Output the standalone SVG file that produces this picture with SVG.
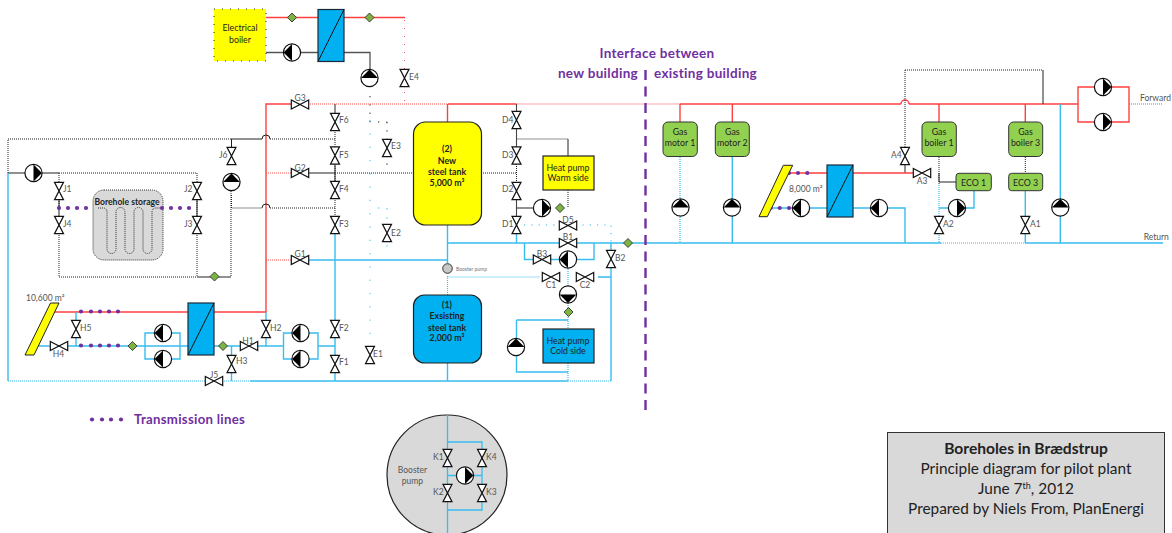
<svg xmlns="http://www.w3.org/2000/svg" xmlns:xlink="http://www.w3.org/1999/xlink" width="1172" height="533" viewBox="0 0 1172 533">
<style>
text{font-family:"Lato","Open Sans","Liberation Sans",sans-serif;fill:#555;font-size:8.500px}
.c{text-anchor:middle}
.d{fill:#222;font-size:8.800px}
.bld{font-weight:700;fill:#222;font-size:8.800px}
.pu{fill:#7030a0;font-weight:700;font-size:13.500px;letter-spacing:.3px}
.tt{fill:#222;font-size:15.400px;text-anchor:middle}
#lines path{fill:none;stroke-linejoin:miter}
.r{stroke:#ff4040;stroke-width:1.400}
.rd{stroke:#ff5050;stroke-width:1.200;stroke-dasharray:1 1}
.rs{stroke:#ff5050;stroke-width:1;stroke-dasharray:1 7}
.b{stroke:#38bdf0;stroke-width:1.400}
.bd{stroke:#38bdf0;stroke-width:1.200;stroke-dasharray:1 1}
.bs{stroke:#38bdf0;stroke-width:1;stroke-dasharray:1.300 12}
.k{stroke:#222;stroke-width:1}
.kd{stroke:#222;stroke-width:1;stroke-dasharray:1 1}
.ks{stroke:#222;stroke-width:1;stroke-dasharray:1.300 7}
.vv{fill:#fff;stroke:#111;stroke-width:1.200}
.pc{fill:#fff;stroke:#111;stroke-width:1.200}
.dm{fill:#7cb342;stroke:#222;stroke-width:.8}
.hx{fill:#00b0f0;stroke:#1a2a38;stroke-width:1.200}
.gr{fill:#92d050;stroke:#333;stroke-width:1}
.dot{fill:#7030a0}
</style>
<defs>
<path id="v" class="vv" d="M-4.500-8.700H4.500L-4.500 8.700H4.500Z"/>
<g id="p"><circle class="pc" r="8.600"/><path d="M0-8.400L8.400 0L0 8.400Z" fill="#000"/></g>
<path id="dia" class="dm" d="M0-4.500L4.500 0L0 4.500L-4.500 0Z"/>
<g id="hxs"><rect class="hx" x="0" y="0" width="26" height="52"/><path d="M0 52L26 0" stroke="#111" stroke-width="1" fill="none"/></g>
</defs>

<g id="lines">
<path class="r" d="M266 17.500H318M344 17.500H405"/>
<path class="rs" d="M404.500 20V104"/>
<path d="M266 52.500H318M344 52.500H370V70" stroke="#555" stroke-width="1.300"/>
<path class="ks" d="M370 96V125"/>
<path class="bs" d="M370 120V372"/>
<path class="r" d="M299 104H266V312H54M448 104H516.500"/>
<path class="r" d="M447.500 104V122M680 104H901M909 104H1078M680 104V122M732.300 104V122M939 104V122M1025.300 104V122"/>
<path class="r" d="M901 104A4 4 0 0 1 909 104"/>
<path class="rd" d="M310 104H448M516.500 104H680M1129 104H1163M266 173H300M266 260H300"/>
<path class="r" d="M1078 104V87H1129V122H1078V104"/>
<path class="k" d="M1043 70V104M335 104V120M905 165V173M939 173V182H956"/>
<path class="ks" d="M378 122H387M387 122V165"/>
<path class="bs" style="stroke-dasharray:1.300 8" d="M378 208H387M387 208V251"/>
<path class="kd" d="M231 139H8V173M270 139H335M59 173H197M59 173V208M59 225V277H197M197 173V277M231 191V277M270 208H335M231.500 195V208H262M335 120V225M335 173H413M481 173H516.500M516.500 139H568M905 70H1043M905 70V148M939 157V185M1025.300 157V173"/>
<path class="k" d="M8 173H59M231.500 139V147M231 139H262M262 139A4 4 0 0 1 270 139M262 208A4 4 0 0 1 270 208M197 277H231M231 191V173M300 173H335M59 200V216M197 200V216M568 139V156M516.500 208H533M335 165V181"/>
<path class="b" d="M8 173V381M250 381H568"/>
<path class="bd" d="M8 381H250M568 381H611M447.500 276V295M447.500 277H540"/>
<path class="b" d="M38 346H188M76 312V346M145 346V333H180V359H145V346M180 346H188M214 346H283M231.500 346V381M266 312V346M283.500 346V333H318V359H283.500V346M318 346H335M335 225V381"/>
<path class="b" d="M447.500 225V263M447.500 243H941M1025 243H1163M300 260H447.500M447.500 363V381"/>
<path class="b" d="M516.500 225V243M524.500 243V259.500H533M550 259.500H559M577 259.500H594V243M611 243V381M598 277H611M516.500 320H568M516.500 320V372H568M732.300 157V243"/>
<path d="M516.500 104V164M516.500 182V225" stroke="#444" stroke-width="1.100"/>
<path class="kd" d="M516.500 164V182"/>
<path class="bs" style="stroke-dasharray:1.300 6" d="M524 225H611V243"/>
<path class="kd" d="M568 190V208"/>
<path class="bd" d="M568 267V286M568 303V329M568 363V381M680 157V243"/>
<path class="r" d="M788 173H827M853 173H913"/>
<path class="b" d="M770 208H827M853 208H905V243M939 208H974V190M1025.300 190V243M1060.300 104V243"/>
<path class="bd" d="M939 185V243M941 243H1025"/>
</g>

<g id="interface">
<path d="M645.500 70V413" stroke="#7030a0" stroke-width="2.400" stroke-dasharray="10 6.500" fill="none"/>
<text class="pu c" x="657" y="58">Interface between</text>
<text class="pu" x="638" y="78" text-anchor="end">new building</text>
<text class="pu" x="654" y="78">existing building</text>
</g>

<g id="electrical-boiler"><rect x="214" y="9" width="52" height="52" fill="#ff0" stroke="#222" stroke-dasharray="1 7"/><text class="d c" x="240" y="31">Electrical</text><text class="d c" x="240" y="43">boiler</text></g>
<g id="hx-top"><use href="#hxs" x="318" y="9.500"/></g>
<g id="hx-solar"><use href="#hxs" x="188" y="303"/></g>
<g id="hx-right"><use href="#hxs" x="827" y="165"/></g>

<g id="diamonds">
<use href="#dia" x="292" y="17.500"/><use href="#dia" x="369.500" y="17.500"/><use href="#dia" x="214.500" y="276.500"/><use href="#dia" x="132.500" y="346"/><use href="#dia" x="223" y="346"/><use href="#dia" x="560" y="208"/><use href="#dia" x="568.500" y="312"/><use href="#dia" x="628" y="243"/>
</g>

<g id="pumps">
<use href="#p" transform="translate(292 52.500) rotate(180)"/>
<use href="#p" transform="translate(369.500 78) rotate(-90)"/>
<use href="#p" transform="translate(33.500 173)"/>
<use href="#p" transform="translate(231.500 182) rotate(-90)"/>
<use href="#p" transform="translate(163 333) rotate(180)"/>
<use href="#p" transform="translate(163 359) rotate(180)"/>
<use href="#p" transform="translate(300.500 333) rotate(180)"/>
<use href="#p" transform="translate(300.500 359) rotate(180)"/>
<use href="#p" transform="translate(542 208)"/>
<use href="#p" transform="translate(568 259.500) rotate(180)"/>
<use href="#p" transform="translate(568 294.500) rotate(90)"/>
<use href="#p" transform="translate(516 347) rotate(-90)"/>
<use href="#p" transform="translate(680.500 207.500) rotate(-90)"/>
<use href="#p" transform="translate(732 207.500) rotate(-90)"/>
<use href="#p" transform="translate(801 208) rotate(180)"/>
<use href="#p" transform="translate(879 208) rotate(180)"/>
<use href="#p" transform="translate(957 208)"/>
<use href="#p" transform="translate(1060.300 207.500) rotate(-90)"/>
<use href="#p" transform="translate(1103 87)"/>
<use href="#p" transform="translate(1103 122)"/>
</g>

<g id="storage">
<rect x="93" y="190" width="70" height="70" rx="11" fill="#d9d9d9" stroke="#333" stroke-dasharray="1 1"/>
<path d="M98 208H103Q107 208 107 212V249A4.500 4.500 0 0 0 116 249V212A4.500 4.500 0 0 1 125 212V249A4.500 4.500 0 0 0 134 249V212A4.500 4.500 0 0 1 143 212V249A4.500 4.500 0 0 0 152 249V212Q152 208 156 208H160" fill="none" stroke="#333" stroke-dasharray="1 1"/>
<text class="c" x="127" y="205" style="fill:#222;font-size:8.600px;font-weight:700">Borehole storage</text>
</g>
<g id="transmission-dots" class="dot">
<circle cx="59" cy="208" r="2.100"/><circle cx="68" cy="208" r="2.100"/><circle cx="77" cy="208" r="2.100"/><circle cx="86" cy="208" r="2.100"/>
<circle cx="162" cy="208" r="2.100"/><circle cx="171" cy="208" r="2.100"/><circle cx="180" cy="208" r="2.100"/><circle cx="189" cy="208" r="2.100"/>
<circle cx="81" cy="311.500" r="2.100"/><circle cx="91" cy="311.500" r="2.100"/><circle cx="100" cy="311.500" r="2.100"/><circle cx="109" cy="311.500" r="2.100"/><circle cx="118" cy="311.500" r="2.100"/>
<circle cx="81" cy="345.500" r="2.100"/><circle cx="91" cy="345.500" r="2.100"/><circle cx="100" cy="345.500" r="2.100"/><circle cx="109" cy="345.500" r="2.100"/><circle cx="118" cy="345.500" r="2.100"/>
<circle cx="789" cy="173" r="2.100"/><circle cx="798" cy="173" r="2.100"/><circle cx="807.300" cy="173" r="2.100"/>
<circle cx="770.700" cy="208" r="2.100"/><circle cx="779.700" cy="208" r="2.100"/><circle cx="789" cy="208" r="2.100"/>
</g>
<g id="legend">
<circle class="dot" cx="92" cy="419.500" r="2.100"/><circle class="dot" cx="102" cy="419.500" r="2.100"/><circle class="dot" cx="111" cy="419.500" r="2.100"/><circle class="dot" cx="121" cy="419.500" r="2.100"/>
<text class="pu" x="134" y="424" style="font-size:13.200px">Transmission lines</text>
</g>

<g id="collector-1"><path d="M25 355H34L59 303H50.500Z" fill="#ff0" stroke="#222"/><text x="26" y="301">10,600 m²</text></g>
<g id="collector-2"><path d="M759 216.700H767.300L792.700 165.300H783.300Z" fill="#ff0" stroke="#222"/><text x="789" y="192">8,000 m²</text></g>

<g id="tank-2"><rect x="413.500" y="122" width="68" height="103" rx="12" fill="#ff0" stroke="#222" stroke-width="1.200"/>
<text class="bld c" x="447" y="152">(2)</text><text class="bld c" x="447" y="164">New</text><text class="bld c" x="447" y="175">steel tank</text><text class="bld c" x="447" y="186">5,000 m³</text></g>
<g id="tank-1"><rect x="413.500" y="295" width="68" height="68" rx="11" fill="#00b0f0" stroke="#222" stroke-width="1.200"/>
<text class="bld c" x="447" y="308">(1)</text><text class="bld c" x="447" y="319">Exsisting</text><text class="bld c" x="447" y="331">steel tank</text><text class="bld c" x="447" y="341">2,000 m³</text></g>
<g id="booster-small"><circle cx="447.500" cy="268.500" r="4.800" fill="#c8c8c8" stroke="#333"/><text x="456" y="271" style="font-size:5px;fill:#777">Booster pump</text></g>
<g id="hp-warm"><rect x="543" y="156" width="51" height="34" fill="#ff0" stroke="#222" stroke-width="1.200"/><text class="d c" x="568" y="171">Heat pump</text><text class="d c" x="568" y="181">Warm side</text></g>
<g id="hp-cold"><rect x="543" y="329" width="51" height="34" fill="#00b0f0" stroke="#222" stroke-width="1.200"/><text class="d c" x="568" y="344">Heat pump</text><text class="d c" x="568" y="354">Cold side</text></g>

<g id="gas-motor-1"><rect class="gr" x="663" y="122" width="34.300" height="34.500" rx="5"/><text class="d c" x="680" y="135">Gas</text><text class="d c" x="680" y="146">motor 1</text></g>
<g id="gas-motor-2"><rect class="gr" x="715.300" y="122" width="34" height="34.500" rx="5"/><text class="d c" x="732.300" y="135">Gas</text><text class="d c" x="732.300" y="146">motor 2</text></g>
<g id="gas-boiler-1"><rect class="gr" x="922" y="122" width="34.300" height="34.500" rx="5"/><text class="d c" x="939" y="135">Gas</text><text class="d c" x="939" y="146">boiler 1</text></g>
<g id="gas-boiler-3"><rect class="gr" x="1008.700" y="122" width="34" height="34.500" rx="5"/><text class="d c" x="1025.500" y="135">Gas</text><text class="d c" x="1025.500" y="146">boiler 3</text></g>
<g id="eco-1"><rect class="gr" x="956" y="173.300" width="35.300" height="17.400" rx="3"/><text class="d c" x="973.500" y="188" dy="-2">ECO 1</text></g>
<g id="eco-3"><rect class="gr" x="1008.700" y="173.300" width="34" height="17.400" rx="3"/><text class="d c" x="1025.500" y="188" dy="-2">ECO 3</text></g>

<g id="valves">
<use href="#v" x="404.500" y="78"/><text x="409" y="80">E4</text>
<use href="#v" x="387" y="148"/><text x="391" y="149">E3</text>
<use href="#v" x="387" y="233"/><text x="391" y="236">E2</text>
<use href="#v" x="370" y="355"/><text x="373" y="357">E1</text>
<use href="#v" transform="translate(300 104.500) rotate(90)"/><text class="c" x="300" y="101">G3</text>
<use href="#v" transform="translate(300 173) rotate(90)"/><text class="c" x="300" y="171">G2</text>
<use href="#v" transform="translate(300 260) rotate(90)"/><text class="c" x="300" y="257">G1</text>
<use href="#v" x="335" y="122"/><text x="339" y="123">F6</text>
<use href="#v" x="335" y="155.500"/><text x="339" y="158">F5</text>
<use href="#v" x="335" y="190"/><text x="339" y="192">F4</text>
<use href="#v" x="335" y="225"/><text x="339" y="227">F3</text>
<use href="#v" x="335" y="329"/><text x="339" y="331">F2</text>
<use href="#v" x="335" y="364"/><text x="339" y="365">F1</text>
<use href="#v" x="231.500" y="156"/><text x="219" y="158">J6</text>
<use href="#v" x="59" y="191"/><text x="63" y="192">J1</text>
<use href="#v" x="59" y="225"/><text x="63" y="227">J4</text>
<use href="#v" x="197" y="191"/><text x="184" y="192">J2</text>
<use href="#v" x="197" y="225"/><text x="184" y="227">J3</text>
<use href="#v" x="76" y="329"/><text x="80" y="331">H5</text>
<use href="#v" transform="translate(59 346) rotate(90)"/><text class="c" x="58.500" y="357">H4</text>
<use href="#v" transform="translate(249 346) rotate(90)"/><text class="c" x="248" y="344">H1</text>
<use href="#v" x="266" y="329"/><text x="270" y="331">H2</text>
<use href="#v" x="231.500" y="364"/><text x="236" y="364">H3</text>
<use href="#v" transform="translate(214 381) rotate(90)"/><text class="c" x="214" y="378">J5</text>
<use href="#v" x="516.500" y="120"/><text x="502" y="123">D4</text>
<use href="#v" x="516.500" y="155.500"/><text x="502" y="158">D3</text>
<use href="#v" x="516.500" y="191"/><text x="502" y="192">D2</text>
<use href="#v" x="516.500" y="225"/><text x="502" y="227">D1</text>
<use href="#v" transform="translate(568 225.500) rotate(90)"/><text class="c" x="568" y="223">D5</text>
<use href="#v" transform="translate(568 243) rotate(90)"/><text class="c" x="568" y="240">B1</text>
<use href="#v" transform="translate(542 259.500) rotate(90)"/><text class="c" x="542" y="257">B3</text>
<use href="#v" x="611" y="259"/><text x="615" y="261">B2</text>
<use href="#v" transform="translate(551 277) rotate(90)"/><text class="c" x="551" y="288">C1</text>
<use href="#v" transform="translate(585 277) rotate(90)"/><text class="c" x="585" y="288">C2</text>
<use href="#v" x="905" y="156"/><text x="891" y="158">A4</text>
<use href="#v" transform="translate(922 173) rotate(90)"/><text class="c" x="922" y="184">A3</text>
<use href="#v" x="939" y="225"/><text x="943" y="227">A2</text>
<use href="#v" x="1025.300" y="225"/><text x="1030" y="227">A1</text>
</g>

<g id="booster-detail">
<circle cx="447" cy="475" r="60" fill="#d9d9d9" stroke="#222" stroke-width="1.200"/>
<path d="M447.500 415V533M447.500 442H482V510H447.500M447.500 475.500H457M474 475.500H482" fill="none" stroke="#38bdf0" stroke-width="1.300"/>
<use href="#v" x="447.500" y="458"/><use href="#v" x="447.500" y="493"/><use href="#v" x="482" y="458"/><use href="#v" x="482" y="493"/>
<use href="#p" transform="translate(465 475.500)"/>
<text x="433" y="460">K1</text><text x="433" y="495">K2</text><text x="486" y="460">K4</text><text x="486" y="495">K3</text>
<text class="c" x="412.500" y="473">Booster</text><text class="c" x="412.500" y="484">pump</text>
</g>

<text id="lbl-forward" x="1140" y="100.500">Forward</text>
<text id="lbl-return" x="1143.700" y="240">Return</text>

<g id="title-box">
<rect x="887.500" y="432.500" width="277" height="101" fill="#d9d9d9" stroke="#333"/>
<text class="tt" x="1026" y="454.300" style="font-weight:700;font-size:15.600px">Boreholes in Brædstrup</text>
<text class="tt" x="1026" y="474.300">Principle diagram for pilot plant</text>
<text class="tt" x="1026" y="494.300">June 7<tspan font-size="9" dy="-5">th</tspan><tspan dy="5">, 2012</tspan></text>
<text class="tt" x="1026" y="514.300">Prepared by Niels From, PlanEnergi</text>
</g>
</svg>
